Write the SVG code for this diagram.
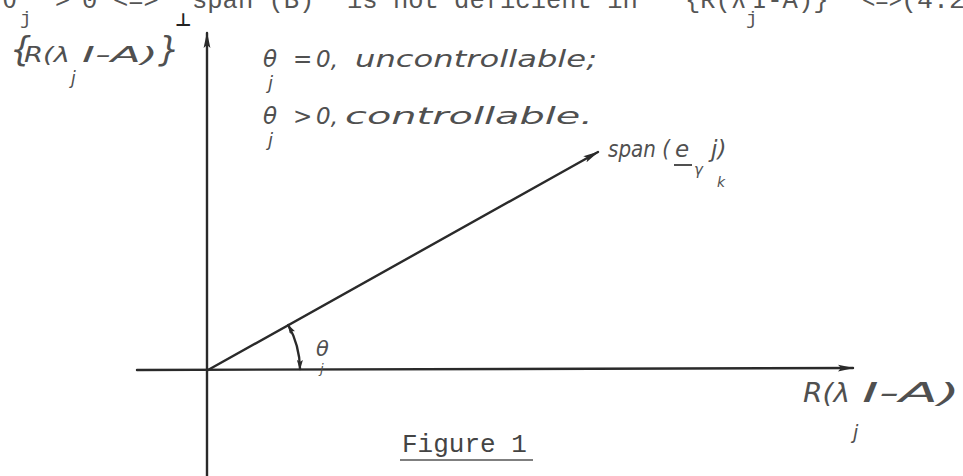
<svg xmlns="http://www.w3.org/2000/svg" width="963" height="476" viewBox="0 0 963 476">
<style>
.tw{font-family:"Liberation Mono","DejaVu Sans Mono",monospace;fill:#555;font-size:25.5px}
.hw{font-family:"DejaVu Sans","Liberation Sans",sans-serif;font-style:italic;fill:#505050}
.ln{stroke:#2a2a2a;stroke-width:2.4;fill:none;stroke-linecap:round}
</style>
<defs>
<marker id="ah" viewBox="0 0 16 8" refX="15" refY="4" markerWidth="16" markerHeight="8" markerUnits="userSpaceOnUse" orient="auto">
<path d="M0,0.6 L16,4 L0,7.4 L3,4 z" fill="#2a2a2a"/>
</marker>
<marker id="ahs" viewBox="0 0 10 6" refX="9" refY="3" markerWidth="10" markerHeight="6" markerUnits="userSpaceOnUse" orient="auto-start-reverse">
<path d="M0,0 L10,3 L0,6 L2,3 z" fill="#2a2a2a"/>
</marker>
</defs>
<rect width="963" height="476" fill="#fff"/>

<g id="top-line">
<text class="tw" x="2" y="8">θ</text>
<text class="tw" x="20" y="24" style="font-size:19px">j</text>
<text class="tw" x="55" y="8">&gt;</text>
<text class="tw" x="82" y="8">0</text>
<text class="tw" x="113" y="8">&lt;=&gt;</text>
<text class="tw" x="192" y="8">span (B)</text>
<text class="tw" x="347" y="8">is not deficient in</text>
<text class="tw" x="685" y="8">{R(λ</text>
<text class="tw" x="746" y="24" style="font-size:19px">j</text>
<text class="tw" x="752" y="8">I-A)}</text>
<text class="tw" x="862" y="8" textLength="40" lengthAdjust="spacingAndGlyphs">&lt;=&gt;</text>
<text class="tw" x="901" y="8" textLength="64" lengthAdjust="spacingAndGlyphs">(4.2</text>
</g>

<g id="connectors">
<line class="ln" x1="207" y1="476" x2="207" y2="33" marker-end="url(#ah)"/>
<line class="ln" x1="137" y1="370" x2="853" y2="368" marker-end="url(#ah)"/>
<line class="ln" x1="208" y1="370" x2="598" y2="152" marker-end="url(#ah)"/>
<path class="ln" d="M288.2,325 A92,92 0 0 1 300,369" stroke-width="1.8" marker-start="url(#ahs)" marker-end="url(#ahs)"/>
</g>

<g id="label-perp">
<text class="hw" x="10" y="61" style="font-size:34px">{</text>
<text class="hw" x="24" y="62" style="font-size:21px" textLength="46" lengthAdjust="spacingAndGlyphs">R(λ</text>
<text class="hw" x="71" y="84" style="font-size:17px">j</text>
<text class="hw" x="82" y="62" style="font-size:21px" textLength="76" lengthAdjust="spacingAndGlyphs">I-A)</text>
<text class="hw" x="158" y="61" style="font-size:34px">}</text>
<text x="175" y="26" style="font-family:'DejaVu Sans',sans-serif;font-size:18px;font-weight:bold;fill:#222">⊥</text>
</g>

<g id="cond-uncontrollable">
<text class="hw" x="263" y="67" style="font-size:23px">θ</text>
<text class="hw" x="268" y="89" style="font-size:18px">j</text>
<text class="hw" x="293" y="67" style="font-size:23px">=</text>
<text class="hw" x="316" y="67" style="font-size:23px">0,</text>
<text class="hw" x="355" y="67" style="font-size:23px" textLength="242" lengthAdjust="spacingAndGlyphs">uncontrollable;</text>
</g>

<g id="cond-controllable">
<text class="hw" x="263" y="124" style="font-size:23px">θ</text>
<text class="hw" x="268" y="146" style="font-size:18px">j</text>
<text class="hw" x="293" y="124" style="font-size:23px">&gt;</text>
<text class="hw" x="316" y="124" style="font-size:23px">0,</text>
<text class="hw" x="345" y="124" style="font-size:23px" textLength="248" lengthAdjust="spacingAndGlyphs">controllable.</text>
</g>

<g id="label-span">
<text class="hw" x="608" y="157" style="font-size:23px" textLength="62" lengthAdjust="spacingAndGlyphs">span (</text>
<text class="hw" x="675" y="157" style="font-size:23px">e</text>
<line x1="674" y1="165" x2="692" y2="165" stroke="#505050" stroke-width="2"/>
<text class="hw" x="694" y="175" style="font-size:15px">γ</text>
<text class="hw" x="711" y="157" style="font-size:23px">j)</text>
<text class="hw" x="717" y="187" style="font-size:14px">k</text>
</g>

<g id="label-theta">
<text class="hw" x="316" y="356" style="font-size:21px">θ</text>
<text class="hw" x="320" y="373" style="font-size:13px">j</text>
</g>

<g id="label-range">
<text class="hw" x="803" y="402" style="font-size:26px" textLength="47" lengthAdjust="spacingAndGlyphs">R(λ</text>
<text class="hw" x="853" y="439" style="font-size:19px">j</text>
<text class="hw" x="862" y="402" style="font-size:26px" textLength="98" lengthAdjust="spacingAndGlyphs">I-A)</text>
</g>

<g id="caption">
<text class="tw" x="402" y="452" style="font-size:26px;fill:#444">Figure 1</text>
<line x1="400" y1="460" x2="533" y2="460" stroke="#555" stroke-width="1.6"/>
</g>
</svg>
